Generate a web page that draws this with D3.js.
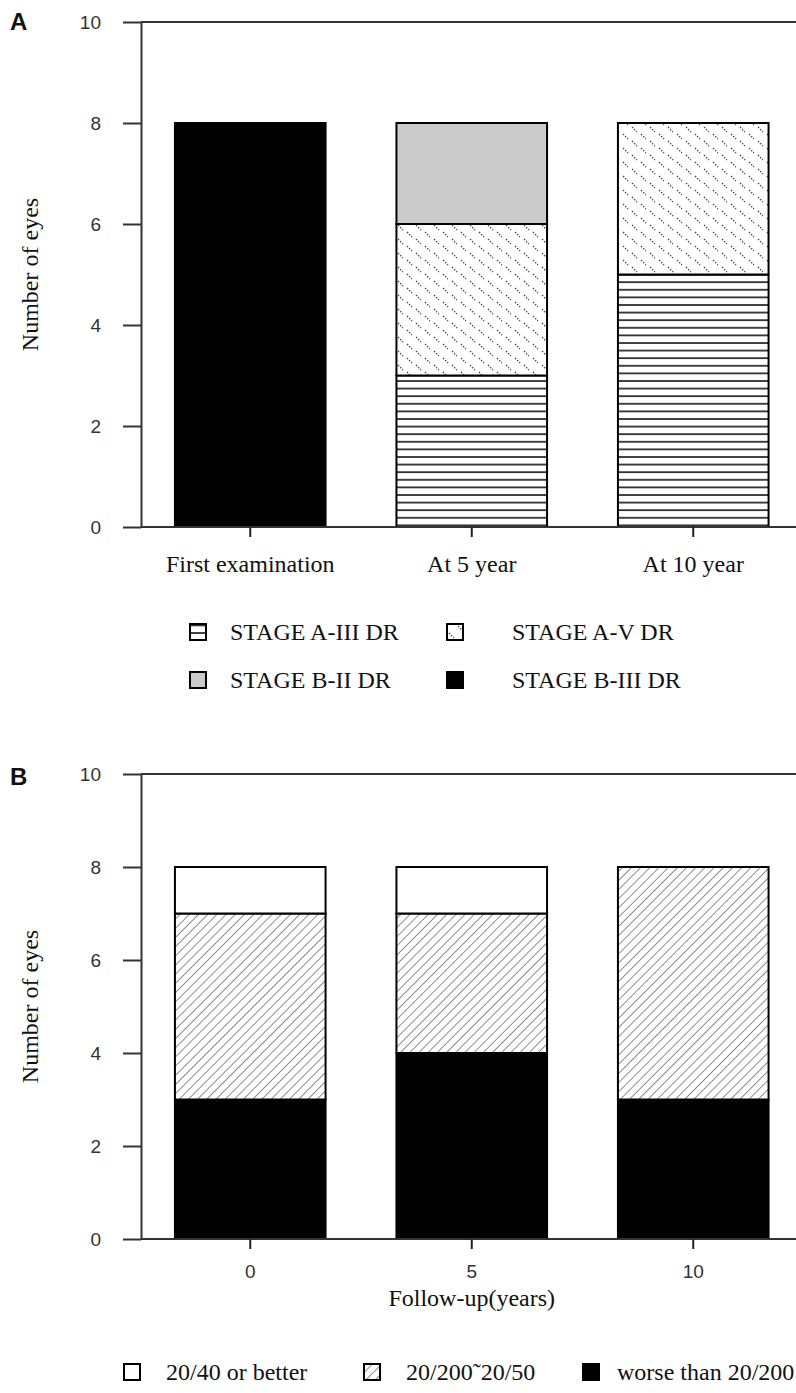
<!DOCTYPE html>
<html>
<head>
<meta charset="utf-8">
<script src="https://cdn.jsdelivr.net/npm/d3@7"></script>
<style>
  body { margin: 0; background: #fff; }
  text { fill: #111; }
  .serif { font-family: "Liberation Serif", "Times New Roman", serif; font-size: 24px; }
  .sans { font-family: "Liberation Sans", Arial, sans-serif; font-size: 19px; fill: #333; }
</style>
</head>
<body>
<div id="chart"></div>
<script>
const width = 796, height = 1393;

// panel A : DR stage per examination
const stageCats = ["First examination", "At 5 year", "At 10 year"];
const stageA3 = [0, 3, 5];
const stageA5 = [0, 3, 3];
const stageB2 = [0, 2, 0];
const stageB3 = [8, 0, 0];
const stageKeys = ["A3", "A5", "B2", "B3"];
const stageLabels = ["STAGE A-III DR", "STAGE A-V DR", "STAGE B-II DR", "STAGE B-III DR"];

// panel B : visual acuity over follow-up
const followCats = ["0", "5", "10"];
const worse = [3, 4, 3];
const middle = [4, 3, 5];
const better = [1, 1, 0];
const visionKeys = ["worse", "middle", "better"];
const visionLabels = ["20/40 or better", "20/200\u02DC20/50", "worse than 20/200"];

const yTicks = [0, 2, 4, 6, 8, 10];

const svg = d3.select("#chart").append("svg")
  .attr("width", width).attr("height", height);

// patterns
const defs = svg.append("defs");
const hl = defs.append("pattern").attr("id", "hlines")
  .attr("patternUnits", "userSpaceOnUse").attr("width", 10).attr("height", 7.6);
hl.append("rect").attr("width", 10).attr("height", 7.6).attr("fill", "#fff");
hl.append("line").attr("x1", 0).attr("x2", 10).attr("y1", 1).attr("y2", 1)
  .attr("stroke", "#222").attr("stroke-width", 1.7);

const dt = defs.append("pattern").attr("id", "dots")
  .attr("patternUnits", "userSpaceOnUse").attr("width", 18).attr("height", 14);
dt.append("rect").attr("width", 18).attr("height", 14).attr("fill", "#fff");
[[2, 1, 7, 6], [11, 8, 16, 13]].forEach(([x1, y1, x2, y2]) =>
  dt.append("line").attr("x1", x1).attr("y1", y1).attr("x2", x2).attr("y2", y2)
    .attr("stroke", "#444").attr("stroke-width", 1.2).attr("stroke-dasharray", "1.6,1.4"));

const ht = defs.append("pattern").attr("id", "hatch")
  .attr("patternUnits", "userSpaceOnUse").attr("width", 6.5).attr("height", 6.5)
  .attr("patternTransform", "rotate(45)");
ht.append("rect").attr("width", 6.5).attr("height", 6.5).attr("fill", "#fff");
ht.append("line").attr("x1", 0).attr("x2", 0).attr("y1", 0).attr("y2", 6.5)
  .attr("stroke", "#333").attr("stroke-width", 1.1);

const stageFill = { A3: "url(#hlines)", A5: "url(#dots)", B2: "#cbcbcb", B3: "#000" };
const visionFill = { worse: "#000", middle: "url(#hatch)", better: "#fff" };

const x = d3.scaleBand().range([139.5, 804]).paddingInner(0.32).paddingOuter(0.16);

function panel(cats, table, keys, fills, top, bottom, letter, letterY) {
  const xs = x.copy().domain(cats);
  const y = d3.scaleLinear().domain([0, 10]).range([bottom, top]);
  const g = svg.append("g");

  const series = d3.stack().keys(keys)(table);
  g.append("g").selectAll("g").data(series).join("g")
    .attr("fill", d => fills[d.key])
    .selectAll("rect").data(d => d.filter(s => s[1] > s[0])).join("rect")
      .attr("x", d => xs(d.data.cat))
      .attr("width", xs.bandwidth())
      .attr("y", d => y(d[1]))
      .attr("height", d => y(d[0]) - y(d[1]))
      .attr("stroke", "#000").attr("stroke-width", 2);

  // frame
  const ax = g.append("g").attr("transform", `translate(141,0)`)
    .call(d3.axisLeft(y).tickValues(yTicks).tickSize(18).tickSizeOuter(0).tickPadding(22)
      .tickFormat(d3.format("d")));
  ax.select(".domain").attr("stroke", "#333").attr("stroke-width", 2);
  ax.selectAll(".tick line").attr("stroke", "#333").attr("stroke-width", 2);
  ax.selectAll(".tick text").attr("class", "sans").attr("font-size", null).attr("font-family", null);

  g.append("line").attr("x1", 141).attr("x2", width).attr("y1", y(10)).attr("y2", y(10))
    .attr("stroke", "#333").attr("stroke-width", 2);
  g.append("line").attr("x1", 141).attr("x2", width).attr("y1", y(0)).attr("y2", y(0))
    .attr("stroke", "#333").attr("stroke-width", 2);

  const bx = g.append("g").attr("transform", `translate(0,${bottom})`)
    .call(d3.axisBottom(xs).tickSize(10).tickSizeOuter(0));
  bx.select(".domain").remove();
  bx.selectAll(".tick line").attr("stroke", "#222").attr("stroke-width", 2);

  g.append("text").attr("class", "serif")
    .attr("transform", `translate(38,${(top + bottom) / 2}) rotate(-90)`)
    .attr("text-anchor", "middle").text("Number of eyes");

  g.append("text").attr("x", 10).attr("y", letterY)
    .attr("font-family", "Liberation Sans, Arial, sans-serif").attr("font-weight", "bold")
    .attr("font-size", 24).attr("fill", "#000").text(letter);
  return { g, bx, xs };
}

// panel A
const tableA = stageCats.map((cat, i) => ({ cat, A3: stageA3[i], A5: stageA5[i], B2: stageB2[i], B3: stageB3[i] }));
const pa = panel(stageCats, tableA, stageKeys, stageFill, 22, 527, "A", 30);
pa.bx.selectAll(".tick text").attr("class", "serif").attr("font-size", null).attr("font-family", null)
  .attr("dy", null).attr("y", 45);

// legend A
const legA = svg.append("g").selectAll("g").data(stageKeys).join("g")
  .attr("transform", (d, i) => `translate(${i % 2 ? 447 : 190},${i < 2 ? 632 : 680})`);
legA.append("rect").attr("x", 0).attr("y", -8).attr("width", 16).attr("height", 16)
  .attr("fill", d => stageFill[d]).attr("stroke", "#000").attr("stroke-width", 2);
legA.append("text").attr("class", "serif")
  .attr("x", (d, i) => i % 2 ? 65 : 40).attr("y", 8)
  .text((d, i) => stageLabels[i]);

// panel B
const tableB = followCats.map((cat, i) => ({ cat, worse: worse[i], middle: middle[i], better: better[i] }));
const pb = panel(followCats, tableB, visionKeys, visionFill, 774, 1239, "B", 785);
pb.bx.selectAll(".tick text").attr("class", "sans").attr("font-size", null).attr("font-family", null)
  .attr("dy", null).attr("y", 39);
pb.g.append("text").attr("class", "serif").attr("x", pb.xs("5") + pb.xs.bandwidth() / 2)
  .attr("y", 1306).attr("text-anchor", "middle").text("Follow-up(years)");

// legend B
const legKeysB = ["better", "middle", "worse"];
const legXB = [124, 364, 583];
const legB = svg.append("g").selectAll("g").data(legKeysB).join("g")
  .attr("transform", (d, i) => `translate(${legXB[i]},1372)`);
legB.append("rect").attr("x", 0).attr("y", -8).attr("width", 16).attr("height", 16)
  .attr("fill", d => visionFill[d]).attr("stroke", "#000").attr("stroke-width", 2);
legB.append("text").attr("class", "serif").attr("x", (d, i) => i === 2 ? 34 : 42).attr("y", 8)
  .text((d, i) => visionLabels[i]);
</script>
</body>
</html>
